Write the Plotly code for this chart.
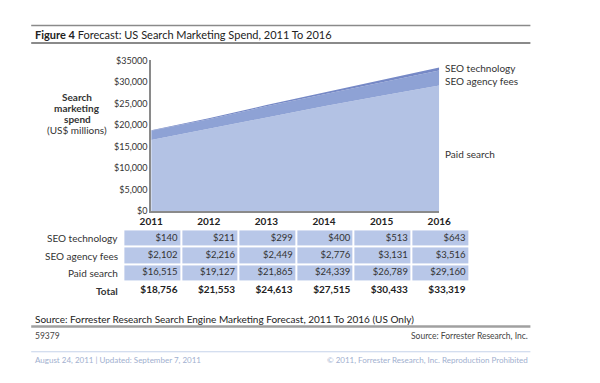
import plotly.graph_objects as go

# ---- data ----
years = [2011, 2012, 2013, 2014, 2015, 2016]
seo_technology = [140, 211, 299, 400, 513, 643]
seo_agency_fees = [2102, 2216, 2449, 2776, 3131, 3516]
paid_search = [16515, 19127, 21865, 24339, 26789, 29160]
totals = [18756, 21553, 24613, 27515, 30433, 33319]
y_tick_vals = [0, 5000, 10000, 15000, 20000, 25000, 30000, 35000]
y_tick_text = ["$0", "$5,000", "$10,000", "$15,000", "$20,000", "$25,000", "$30,000", "$35000"]
row_labels = ["Total", "Paid search", "SEO agency fees", "SEO technology"]
y_title_lines = ["<b>Search</b>", "<b>marketing</b>", "<b>spend</b>", "(US$ millions)"]

W, H = 600, 383
FONT = "Lato, 'Open Sans', sans-serif"
TXT = "#333333"
C_PAID = "#b3c2e4"
C_AGENCY = "#8ea2d5"
C_TECH = "#7689c6"
C_CELL = "#b8c7e8"


def fx(px):
    return px / W


def fy(py):
    return 1 - py / H


def money(v):
    return "${:,}".format(v)


fig = go.Figure()

# stacked area
fig.add_trace(go.Scatter(x=years, y=paid_search, stackgroup="one", mode="lines",
                         line=dict(width=0), fillcolor=C_PAID, hoverinfo="skip", name="Paid search"))
fig.add_trace(go.Scatter(x=years, y=seo_agency_fees, stackgroup="one", mode="lines",
                         line=dict(width=0), fillcolor=C_AGENCY, hoverinfo="skip", name="SEO agency fees"))
fig.add_trace(go.Scatter(x=years, y=seo_technology, stackgroup="one", mode="lines",
                         line=dict(width=0), fillcolor=C_TECH, hoverinfo="skip", name="SEO technology"))

# table cells (rows: 0 Total, 1 Paid, 2 Agency, 3 Tech)
z = [[None] * 6, [1] * 6, [1] * 6, [1] * 6]
fig.add_trace(go.Heatmap(x=years, y=[0, 1, 2, 3], z=z, xaxis="x2", yaxis="y2",
                         colorscale=[[0, C_CELL], [1, C_CELL]], zmin=0, zmax=1,
                         showscale=False, xgap=2, ygap=2, hoverinfo="skip"))

tx, ty, tt = [], [], []
for i, yr in enumerate(years):
    for r, series in ((1, paid_search), (2, seo_agency_fees), (3, seo_technology)):
        tx.append(yr + 0.44)
        ty.append(r)
        tt.append(money(series[i]))
fig.add_trace(go.Scatter(x=tx, y=ty, text=tt, mode="text", textposition="middle left",
                         textfont=dict(family=FONT, size=9.5, color=TXT),
                         xaxis="x2", yaxis="y2", hoverinfo="skip"))
fig.add_trace(go.Scatter(x=[yr + 0.44 for yr in years], y=[0] * 6,
                         text=["<b>" + money(t) + "</b>" for t in totals],
                         mode="text", textposition="middle left",
                         textfont=dict(family=FONT, size=10, color="#222222"),
                         xaxis="x2", yaxis="y2", hoverinfo="skip"))

annotations = []
for r, lab in enumerate(row_labels):
    annotations.append(dict(x=fx(112), y=r, xref="paper", yref="y2", xanchor="right",
                            yanchor="middle", showarrow=False,
                            text=("<b>%s</b>" % lab) if r == 0 else lab,
                            font=dict(family=FONT, size=10, color=TXT)))

# series labels on the right
annotations += [
    dict(x=fx(449), y=fy(64), xref="paper", yref="paper", xanchor="left", yanchor="middle",
         showarrow=False, text="SEO technology", font=dict(family=FONT, size=10, color=TXT)),
    dict(x=fx(449), y=fy(77), xref="paper", yref="paper", xanchor="left", yanchor="middle",
         showarrow=False, text="SEO agency fees", font=dict(family=FONT, size=10, color=TXT)),
    dict(x=fx(449), y=fy(152), xref="paper", yref="paper", xanchor="left", yanchor="middle",
         showarrow=False, text="Paid search", font=dict(family=FONT, size=10, color=TXT)),
]

# y-axis title, one annotation per line for tight line spacing
for i, line in enumerate(y_title_lines):
    annotations.append(dict(x=fx(68), y=fy(94 + 11.3 * i), xref="paper", yref="paper",
                            xanchor="center", yanchor="middle", showarrow=False, text=line,
                            font=dict(family=FONT, size=10, color=TXT)))

# header / footer text
annotations += [
    dict(x=fx(22), y=fy(29), xref="paper", yref="paper", xanchor="left", yanchor="middle",
         showarrow=False, text="<b>Figure 4</b> Forecast: US Search Marketing Spend, 2011 To 2016",
         font=dict(family=FONT, size=11, color="#222222")),
    dict(x=fx(22), y=fy(322), xref="paper", yref="paper", xanchor="left", yanchor="middle",
         showarrow=False,
         text="Source: Forrester Research Search Engine Marketing Forecast, 2011 To 2016 (US Only)",
         font=dict(family=FONT, size=10, color="#222222")),
    dict(x=fx(22), y=fy(340), xref="paper", yref="paper", xanchor="left", yanchor="middle",
         showarrow=False, text="59379", font=dict(family=FONT, size=8.5, color="#444444")),
    dict(x=fx(540), y=fy(340), xref="paper", yref="paper", xanchor="right", yanchor="middle",
         showarrow=False, text="Source: Forrester Research, Inc.",
         font=dict(family=FONT, size=8.5, color="#444444")),
    dict(x=fx(22), y=fy(364), xref="paper", yref="paper", xanchor="left", yanchor="middle",
         showarrow=False, text="August 24, 2011 | Updated: September 7, 2011",
         font=dict(family=FONT, size=8, color="#9fb0cf")),
    dict(x=fx(540), y=fy(364), xref="paper", yref="paper", xanchor="right", yanchor="middle",
         showarrow=False, text="© 2011, Forrester Research, Inc. Reproduction Prohibited",
         font=dict(family=FONT, size=8, color="#9fb0cf")),
]

shapes = [
    dict(type="line", xref="paper", yref="paper", x0=fx(20), x1=fx(540), y0=fy(20), y1=fy(20),
         line=dict(color="#8a8a8a", width=1.5)),
    dict(type="line", xref="paper", yref="paper", x0=fx(20), x1=fx(540), y0=fy(38), y1=fy(38),
         line=dict(color="#8a8a8a", width=2)),
    dict(type="line", xref="paper", yref="paper", x0=fx(20), x1=fx(540), y0=fy(330), y1=fy(330),
         line=dict(color="#a0a0a0", width=2.5)),
    dict(type="line", xref="paper", yref="paper", x0=fx(20), x1=fx(540), y0=fy(356), y1=fy(356),
         line=dict(color="#c5d3ea", width=1)),
]

fig.update_layout(
    width=W, height=H,
    margin=dict(l=0, r=0, t=0, b=0, pad=0),
    paper_bgcolor="white", plot_bgcolor="white",
    showlegend=False,
    font=dict(family=FONT, color=TXT),
    xaxis=dict(domain=[fx(145), fx(445)], range=[2011, 2016], showgrid=False, zeroline=False,
               showline=True, linecolor="#8a8a8a", linewidth=2,
               tickmode="array", tickvals=years, ticktext=["<b>%d</b>" % y for y in years],
               ticks="", tickfont=dict(family=FONT, size=10, color="#222222")),
    yaxis=dict(domain=[fy(211), fy(56)], range=[0, 35000], showgrid=False, zeroline=False,
               showline=True, linecolor="#8a8a8a", linewidth=2,
               tickmode="array", tickvals=y_tick_vals, ticktext=y_tick_text, ticks="",
               tickfont=dict(family=FONT, size=9, color=TXT)),
    xaxis2=dict(domain=[fx(116), fx(476)], range=[2010.5, 2016.5], visible=False,
                anchor="y2"),
    yaxis2=dict(domain=[fy(302), fy(230)], range=[-0.5, 3.5], visible=False, anchor="x2"),
    annotations=annotations,
    shapes=shapes,
)

fig.write_html("out.html", config={"displayModeBar": False},
               post_script="document.body.style.margin='0';document.body.style.padding='0';")
